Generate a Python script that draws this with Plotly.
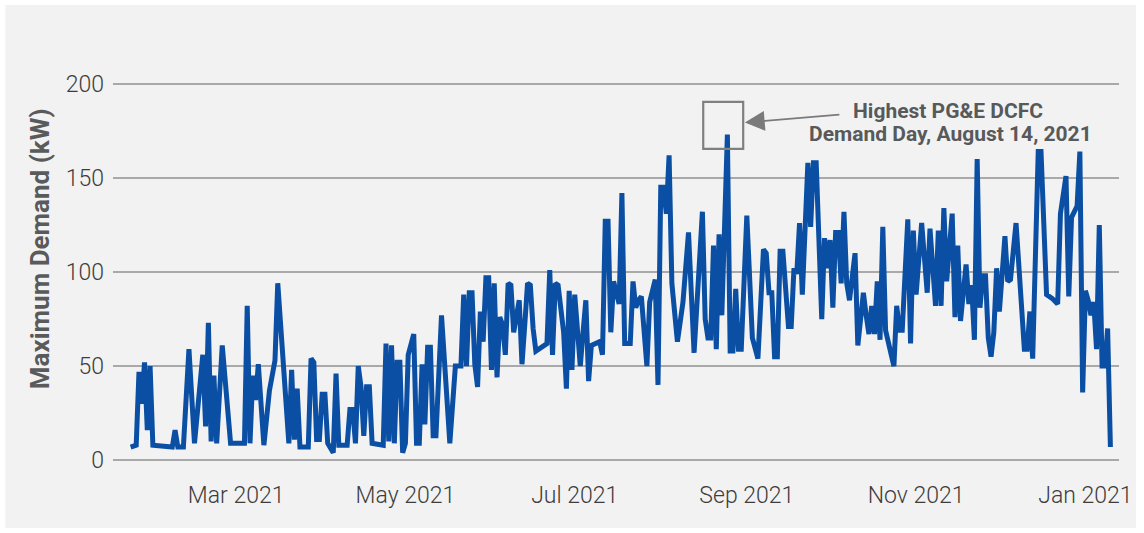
import pandas as pd
import plotly.graph_objects as go

# ---- data ----
start_date = "2021-01-22"
day_offset = [
    0, 2, 3, 4, 5, 6, 7, 8, 15, 16, 17, 19, 21, 23, 26, 27, 28, 29, 30, 31, 33, 36, 41, 42, 43, 44, 45, 46, 48, 50,
    52, 53, 57, 58, 59, 60, 61,
    64, 65, 66, 67, 68, 69, 70, 71, 73, 74, 75, 78, 79, 80, 81, 82, 83, 84, 85, 86, 87, 91, 92, 93, 94, 95, 96, 97,
    98, 99, 100, 102, 103, 104, 105, 106, 107, 108, 109, 110, 112, 115, 117, 119, 120, 121, 122, 123,
    124, 125, 126, 127, 128, 129, 130, 131, 132, 133, 134, 135, 136, 137, 138, 140, 141, 142, 143, 144, 145, 146,
    148, 150, 151, 152, 153, 154, 156, 157, 158, 159, 160, 162, 163, 164, 165, 166, 169, 170, 171, 172, 173, 174,
    176, 177, 178, 180, 181, 182, 183,
    184, 186, 187, 189, 190, 191, 192, 193, 194, 195, 197, 199, 201, 203, 206, 207, 208, 209, 210, 211, 212, 213,
    215, 216, 217, 218, 219, 220, 222, 224, 226, 228, 229, 230, 231, 232, 233, 234, 235, 237, 238, 239, 240, 241,
    242, 244,
    245, 246, 247, 249, 250, 251, 252, 253, 254, 255, 256, 257, 258, 259, 261, 262, 264, 265, 266, 267, 268, 269,
    270, 271, 272, 275, 276, 277, 278, 280, 281, 282, 283, 285, 287, 288, 289, 290, 291, 292, 293, 294, 296, 297,
    298, 299, 301, 302, 303, 304, 305,
    306, 307, 308, 309, 310, 311, 312, 313, 314, 315, 316, 317, 319, 322, 323, 324, 325, 327, 328, 330, 332, 334,
    335, 337, 338, 339, 341, 342, 343, 344, 345, 346, 347, 348, 349, 350, 351, 352, 353,
]
max_demand_kw = [
    7, 8, 47, 30, 52, 16, 50, 8, 7, 16, 7, 7, 59, 9, 56, 18, 73, 10, 45, 9, 61, 9, 9, 82, 9, 45, 32, 51, 8, 37,
    53, 94, 9, 48, 11, 38, 7,
    7, 54, 52, 11, 11, 35, 35, 9, 4, 46, 8, 8, 27, 27, 9, 50, 39, 13, 39, 39, 9, 8, 62, 10, 61, 9, 52, 52,
    4, 9, 56, 67, 9, 9, 51, 19, 60, 60, 13, 13, 77, 9, 50, 50, 88, 50, 89, 89,
    51, 39, 79, 63, 97, 97, 48, 94, 44, 76, 72, 56, 94, 93, 68, 85, 51, 72, 94, 93, 70, 58,
    60, 62, 101, 56, 94, 93, 68, 38, 90, 48, 88, 50, 68, 85, 42, 61, 63, 56, 127, 127, 68, 95,
    83, 142, 62, 62, 95, 81, 85,
    87, 50, 84, 96, 40, 145, 145, 131, 162, 94, 63, 84, 121, 57, 132, 75, 65, 65, 114, 59, 120, 77,
    173, 58, 58, 91, 59, 59, 130, 65, 54, 112, 110, 89, 89, 55, 55, 111, 111, 71, 71, 102, 99, 126,
    88, 158,
    124, 158, 158, 75, 118, 102, 117, 81, 121, 121, 94, 132, 94, 85, 110, 61, 89, 77, 67, 82, 67, 95,
    64, 124, 69, 50, 82, 69, 69, 128, 62, 122, 88, 126, 89, 123, 104, 82, 122, 82, 134, 95, 131, 76,
    114, 74, 104, 83, 93, 64, 160,
    81, 98, 98, 65, 55, 68, 102, 79, 98, 119, 95, 96, 126, 59, 59, 79, 54, 164, 164, 88, 86, 83,
    131, 151, 87, 129, 135, 164, 36, 90, 85, 77, 84, 59, 125, 50, 50, 70, 7,
]
tick_dates = ["2021-03-01", "2021-05-01", "2021-07-01", "2021-09-01", "2021-11-01", "2022-01-01"]
tick_labels = ["Mar 2021", "May 2021", "Jul 2021", "Sep 2021", "Nov 2021", "Jan 2021"]
y_ticks = [0, 50, 100, 150, 200]
note_line1 = "Highest PG&E DCFC"
note_line2 = "Demand Day, August 14, 2021"
y_title = "Maximum Demand (kW)"

t0 = pd.Timestamp(start_date)
dates = [(t0 + pd.Timedelta(days=o)).strftime("%Y-%m-%d") for o in day_offset]


def d(off):
    return (t0 + pd.Timedelta(days=off)).strftime("%Y-%m-%d %H:%M:%S")


fig = go.Figure()
fig.add_trace(go.Scatter(
    x=dates, y=max_demand_kw, mode="lines",
    line=dict(color="#0a4fa3", width=5, shape="linear"),
    hoverinfo="x+y", showlegend=False,
))

W, H = 1144, 533
L, R, T, B = 113, 1122, 80, 464
pw, ph = R - L, B - T


def px(xp):
    return (xp - L) / pw


def py(yp):
    return (B - yp) / ph


note_font = dict(family="Roboto", size=21, color="#58595b", weight=700)

fig.update_layout(
    width=W, height=H,
    margin=dict(l=L, r=W - R, t=T, b=H - B, pad=0),
    paper_bgcolor="white",
    plot_bgcolor="rgba(0,0,0,0)",
    font=dict(family="Roboto", color="#3d3d3d"),
    showlegend=False,
    xaxis=dict(
        type="date",
        range=[d(-6.36), d(356.1)],
        tickvals=tick_dates, ticktext=tick_labels,
        showgrid=False, zeroline=False, showline=False, ticks="",
        tickfont=dict(family="Roboto", size=23, color="#3d3d3d", weight=300),
        ticklabelstandoff=15,
    ),
    yaxis=dict(
        range=[-2, 202],
        tickvals=y_ticks,
        showgrid=True, gridcolor="#a9a9a9", gridwidth=1.5,
        zeroline=False, showline=False, ticks="",
        tickfont=dict(family="Roboto", size=23, color="#3d3d3d", weight=300),
        ticklabelstandoff=8,
    ),
    shapes=[
        dict(type="rect", xref="paper", yref="paper", layer="below",
             x0=px(5), x1=px(1139), y0=py(528), y1=py(5),
             fillcolor="#f2f2f2", line=dict(width=0)),
        dict(type="rect", xref="x", yref="y",
             x0=d(206.3), x1=d(220.7), y0=165.4, y1=190.4,
             line=dict(color="#7f7f7f", width=2.2), fillcolor="rgba(0,0,0,0)"),
    ],
    annotations=[
        dict(x=px(40), y=py(249), xref="paper", yref="paper",
             xanchor="center", yanchor="middle", text=y_title, textangle=-90,
             showarrow=False,
             font=dict(family="Roboto", size=26, color="#595a5c", weight=700)),
        dict(x=d(221.3), y=179.4, xref="x", yref="y", text="",
             showarrow=True, ax=96, ay=-8, arrowhead=2, arrowsize=2.2,
             arrowwidth=1.8, arrowcolor="#7a7a7a"),
        dict(x=px(950), y=py(111), xref="paper", yref="paper",
             xanchor="center", yanchor="middle", text=note_line1,
             showarrow=False, font=note_font),
        dict(x=px(953), y=py(134), xref="paper", yref="paper",
             xanchor="center", yanchor="middle", text=note_line2,
             showarrow=False, font=note_font),
    ],
)

fig.write_html("out.html", config={"displayModeBar": False},
               post_script="document.body.style.margin='0';")
